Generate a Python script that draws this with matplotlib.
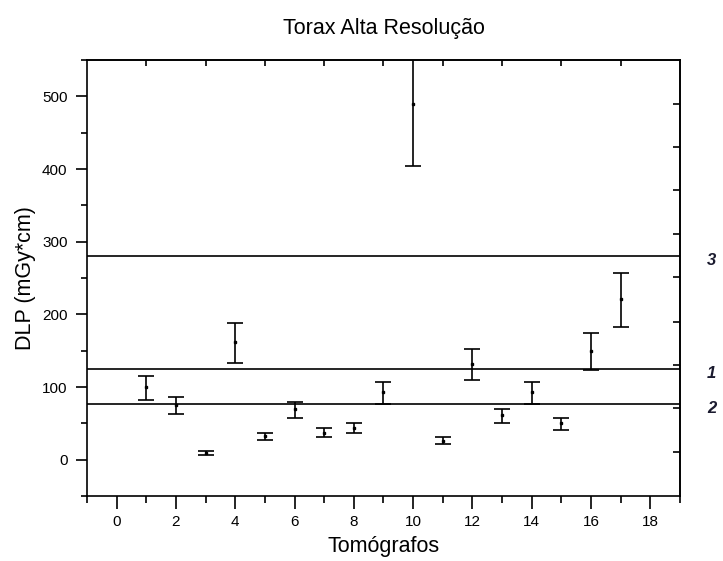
import numpy as np
from matplotlib import pyplot as plt

plt.rcParams['font.family'] = ['Liberation Sans', 'DejaVu Sans']

# DLP per tomograph (mean, lower, upper)
tomografos = np.arange(1, 18)
dlp = [100, 75, 9.5, 162, 32, 70, 37, 44, 93, 489, 26, 132, 62, 93, 50, 150, 221]
dlp_low = [82, 63, 7, 133, 27, 57, 31, 37, 77, 404, 21, 110, 51, 77, 41, 124, 183]
dlp_high = [115, 86, 12, 188, 37, 80, 43, 51, 107, 574, 31, 153, 70, 107, 58, 174, 257]

# reference levels
ref_values = [125, 77, 280]
ref_labels = ['1', '2', '3']

# ticks of the opposite (top/right) axes
top_ticks = np.arange(1, 19, 2)
right_ticks = [11, 71, 130, 190, 251, 310, 371, 430, 490]

fig = plt.figure(figsize=(7.23, 5.61), dpi=100)
ax = fig.add_axes([0.1203, 0.1159, 0.8202, 0.777])

dlp = np.array(dlp)
yerr = [dlp - np.array(dlp_low), np.array(dlp_high) - dlp]
ax.errorbar(tomografos, dlp, yerr=yerr, fmt='s', color='black', ms=2,
            elinewidth=1.2, capsize=6, capthick=1.2)

for val, lab in zip(ref_values, ref_labels):
    ax.axhline(val, color='black', lw=1.2)
    ax.text(1.053, val - 6, lab, transform=ax.get_yaxis_transform(),
            ha='center', va='center', fontsize=12, fontweight='bold',
            fontstyle='italic', color='#1a1a2e')

ax.set_xlim(-1, 19)
ax.set_ylim(-50, 550)
ax.set_xticks(np.arange(0, 19, 2))
ax.set_xticks(np.arange(-1, 20, 1), minor=True)
ax.set_yticks(np.arange(0, 501, 100))
ax.set_yticks(np.arange(-50, 551, 50), minor=True)

ax.tick_params(axis='both', which='both', labelsize=11, width=1.2,
               direction='out', top=False, right=False)
ax.tick_params(axis='x', which='major', length=9, pad=5)
ax.tick_params(axis='x', which='minor', length=5)
ax.tick_params(axis='y', which='major', length=8, pad=6)
ax.tick_params(axis='y', which='minor', length=4)

sec_x = ax.secondary_xaxis('top')
sec_x.set_xticks(top_ticks)
sec_x.tick_params(direction='in', length=4, width=1.2, labeltop=False)
sec_x.spines['top'].set_linewidth(1.2)
sec_y = ax.secondary_yaxis('right')
sec_y.set_yticks(right_ticks)
sec_y.tick_params(direction='in', length=5, width=1.2, labelright=False)
sec_y.spines['right'].set_linewidth(1.2)

for sp in ax.spines.values():
    sp.set_linewidth(1.2)

ax.set_xlabel('Tomógrafos', fontsize=15.5, labelpad=5)
ax.set_ylabel('DLP (mGy*cm)', fontsize=15.5, labelpad=4)
ax.set_title('Torax Alta Resolução', fontsize=15.5, pad=19)

fig.savefig('out.png', dpi=100)
